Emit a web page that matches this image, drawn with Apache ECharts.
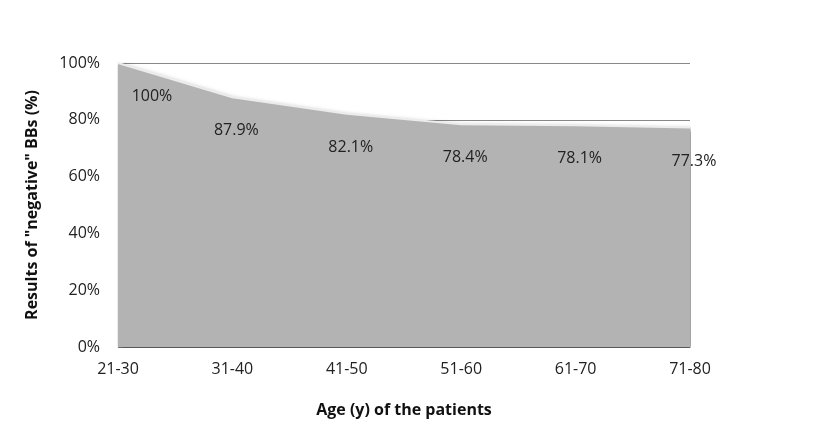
<!DOCTYPE html>
<html><head><meta charset="utf-8">
<script src="https://cdn.jsdelivr.net/npm/echarts@6/dist/echarts.min.js"></script>
<style>html,body{margin:0;padding:0;background:#fff}#c{width:824px;height:437px}</style>
</head><body><div id="c"></div>
<script>
var categories = ['21-30','31-40','41-50','51-60','61-70','71-80'];
var values = [100, 87.9, 82.1, 78.4, 78.1, 77.3];
var labelTexts = ['100%','87.9%','82.1%','78.4%','78.1%','77.3%'];
var yTicks = [0,20,40,60,80,100];

var chart = echarts.init(document.getElementById('c'));
var font = '"Open Sans", "Noto Sans", sans-serif';
chart.setOption({
  animation: false,
  grid: {left: 118, right: 134, top: 63, bottom: 90},
  xAxis: {
    type: 'category', data: categories, boundaryGap: false,
    axisLine: {show: false}, axisTick: {show: false},
    axisLabel: {color: '#222', fontFamily: font, fontSize: 16, margin: 14},
    name: 'Age (y) of the patients', nameLocation: 'middle', nameGap: 55,
    nameTextStyle: {color: '#111', fontFamily: font, fontSize: 16, fontWeight: 'bold'}
  },
  yAxis: {
    type: 'value', min: 0, max: 100, interval: 20,
    axisLine: {show: false}, axisTick: {show: false},
    splitLine: {lineStyle: {color: '#888', width: 1}},
    axisLabel: {color: '#222', fontFamily: font, fontSize: 16, margin: 18, formatter: '{value}%'},
    name: 'Results of "negative" BBs (%)', nameLocation: 'middle', nameGap: 78,
    nameTextStyle: {color: '#111', fontFamily: font, fontSize: 16, fontWeight: 'bold'}
  },
  series: [{
    type: 'line',
    data: values.map(function(v, i){
      var d = {value: v};
      if (i === 0) d.label = {offset: [34, 0]};
      return d;
    }),
    symbol: 'circle', symbolSize: 1, showSymbol: true,
    itemStyle: {color: 'rgba(0,0,0,0)', borderWidth: 0},
    lineStyle: {color: '#ececec', width: 2},
    areaStyle: {color: '#b3b3b3', opacity: 1, shadowColor: 'rgba(0,0,0,0.5)', shadowBlur: 5, shadowOffsetX: 2, shadowOffsetY: 2},
    label: {
      show: true, position: 'bottom', distance: 25, offset: [4, 0],
      color: '#222', fontFamily: font, fontSize: 16,
      formatter: function(p){ return labelTexts[p.dataIndex]; }
    }
  }]
});
</script></body></html>
